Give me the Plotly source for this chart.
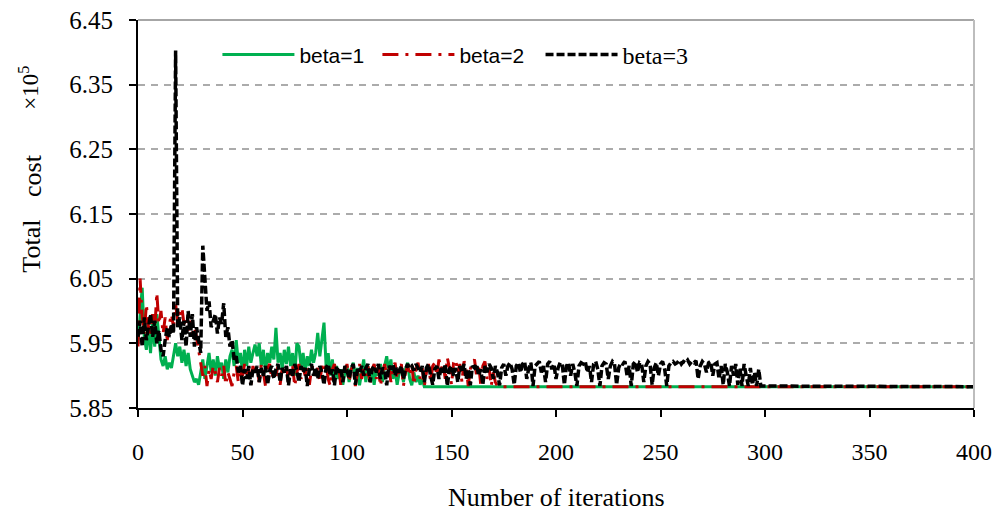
import plotly.graph_objects as go

# ---- data (total cost, x10^5) ----
beta1_cost = [
    5.950, 5.990, 6.036, 5.960, 5.940, 5.975, 5.935, 5.985, 5.945, 5.995,
    5.960, 5.925, 5.915, 5.930, 5.910, 5.920, 5.912, 5.935, 5.950, 5.930,
    5.945, 5.920, 5.940, 5.915, 5.935, 5.910, 5.900, 5.890, 5.895, 5.886,
    5.905, 5.925, 5.895, 5.915, 5.935, 5.905, 5.925, 5.900, 5.930, 5.910,
    5.920, 5.895, 5.925, 5.905, 5.930, 5.940, 5.915, 5.955, 5.920, 5.935,
    5.905, 5.940, 5.915, 5.945, 5.920, 5.935, 5.948, 5.930, 5.950, 5.915,
    5.940, 5.905, 5.935, 5.920, 5.945, 5.925, 5.974, 5.920, 5.935, 5.910,
    5.940, 5.918, 5.945, 5.915, 5.935, 5.900, 5.950, 5.945, 5.915, 5.935,
    5.905, 5.930, 5.915, 5.940, 5.920, 5.935, 5.966, 5.930, 5.960, 5.982,
    5.915, 5.935, 5.900, 5.925, 5.890, 5.915, 5.895, 5.910, 5.886, 5.905,
    5.915, 5.890, 5.910, 5.920, 5.895, 5.912, 5.885, 5.905, 5.925, 5.890,
    5.915, 5.895, 5.908, 5.886, 5.912, 5.900, 5.918, 5.890, 5.915, 5.930,
    5.905, 5.925, 5.895, 5.910, 5.886, 5.905, 5.915, 5.890, 5.910, 5.920,
    5.895, 5.885, 5.905, 5.890, 5.900, 5.886, 5.895, 5.883,
]
beta1_iter = list(range(len(beta1_cost))) + [400]
beta1_cost = beta1_cost + [5.883]

beta2_cost = [
    5.945, 6.050, 5.990, 5.965, 6.010, 5.975, 5.960, 5.995, 5.970, 6.028,
    5.980, 6.000, 5.965, 5.990, 5.955, 5.980, 5.995, 5.975, 6.010, 5.985,
    5.995, 6.005, 5.980, 5.990, 5.970, 5.985, 5.965, 5.975, 5.960, 5.940,
    5.920, 5.900, 5.915, 5.884, 5.910, 5.895, 5.915, 5.905, 5.890, 5.912,
    5.900, 5.915, 5.886, 5.905, 5.895, 5.884, 5.905, 5.915, 5.890, 5.910,
    5.900, 5.918, 5.895, 5.910, 5.886, 5.915, 5.900, 5.912, 5.890, 5.918,
    5.905, 5.884, 5.912, 5.918, 5.895, 5.910, 5.900, 5.915, 5.886, 5.912,
    5.905, 5.918, 5.890, 5.910, 5.915, 5.884, 5.905, 5.918, 5.895, 5.912,
    5.900, 5.915, 5.886, 5.910, 5.918, 5.900, 5.912, 5.890, 5.915, 5.905,
    5.918, 5.895, 5.884, 5.910, 5.918, 5.900, 5.915, 5.886, 5.912, 5.905,
    5.918, 5.890, 5.910, 5.915, 5.884, 5.905, 5.918, 5.895, 5.912, 5.900,
    5.915, 5.886, 5.910, 5.918, 5.895, 5.912, 5.884, 5.905, 5.918, 5.900,
    5.915, 5.890, 5.912, 5.920, 5.895, 5.910, 5.918, 5.884, 5.905, 5.915,
    5.900, 5.918, 5.886, 5.910, 5.920, 5.895, 5.912, 5.884, 5.905, 5.918,
    5.890, 5.915, 5.920, 5.900, 5.925, 5.910, 5.918, 5.895, 5.928, 5.912,
    5.886, 5.920, 5.925, 5.905, 5.918, 5.890, 5.922, 5.915, 5.884, 5.910,
    5.920, 5.925, 5.900, 5.918, 5.886, 5.915, 5.922, 5.895, 5.912, 5.884,
    5.905, 5.890, 5.884, 5.883,
]
beta2_iter = list(range(len(beta2_cost))) + [400]
beta2_cost = beta2_cost + [5.883]

beta3_cost = [
    5.960, 5.985, 5.945, 5.990, 5.955, 5.975, 5.995, 5.960, 5.985, 5.950,
    5.970, 5.940, 5.930, 5.955, 5.975, 5.960, 5.980, 5.965, 6.403, 5.975,
    5.990, 5.955, 5.985, 5.945, 6.000, 5.960, 5.995, 5.945, 5.975, 5.955,
    5.935, 6.101, 6.040, 6.000, 6.015, 5.975, 5.985, 5.995, 5.965, 5.990,
    5.980, 6.012, 5.960, 5.975, 5.945, 5.955, 5.925, 5.930, 5.905, 5.915,
    5.885, 5.910, 5.895, 5.915, 5.885, 5.910, 5.905, 5.915, 5.890, 5.912,
    5.900, 5.915, 5.886, 5.908, 5.915, 5.895, 5.910, 5.918, 5.890, 5.912,
    5.905, 5.915, 5.885, 5.910, 5.900, 5.918, 5.908, 5.890, 5.915, 5.905,
    5.912, 5.884, 5.910, 5.918, 5.900, 5.912, 5.895, 5.915, 5.905, 5.886,
    5.912, 5.918, 5.900, 5.910, 5.885, 5.915, 5.905, 5.912, 5.890, 5.915,
    5.908, 5.895, 5.912, 5.918, 5.886, 5.910, 5.905, 5.915, 5.900, 5.912,
    5.918, 5.890, 5.910, 5.915, 5.905, 5.918, 5.895, 5.912, 5.908, 5.885,
    5.915, 5.910, 5.918, 5.900, 5.912, 5.905, 5.915, 5.895, 5.910, 5.918,
    5.912, 5.915, 5.908, 5.918, 5.912, 5.905, 5.915, 5.890, 5.912, 5.918,
    5.900, 5.886, 5.910, 5.915, 5.895, 5.912, 5.905, 5.918, 5.884, 5.910,
    5.915, 5.900, 5.912, 5.890, 5.915, 5.905, 5.918, 5.895, 5.910, 5.885,
    5.915, 5.912, 5.918, 5.900, 5.910, 5.886, 5.915, 5.905, 5.918, 5.912,
    5.895, 5.915, 5.905, 5.885, 5.912, 5.918, 5.900, 5.915, 5.920, 5.910,
    5.886, 5.915, 5.920, 5.905, 5.918, 5.922, 5.895, 5.912, 5.920, 5.884,
    5.915, 5.918, 5.922, 5.905, 5.915, 5.890, 5.918, 5.922, 5.910, 5.918,
    5.895, 5.912, 5.920, 5.918, 5.886, 5.915, 5.920, 5.900, 5.918, 5.905,
    5.884, 5.915, 5.920, 5.918, 5.922, 5.905, 5.915, 5.890, 5.918, 5.922,
    5.910, 5.884, 5.915, 5.920, 5.918, 5.895, 5.915, 5.922, 5.918, 5.886,
    5.912, 5.920, 5.918, 5.922, 5.900, 5.915, 5.884, 5.918, 5.922, 5.905,
    5.920, 5.918, 5.890, 5.915, 5.922, 5.918, 5.886, 5.912, 5.920, 5.900,
    5.918, 5.922, 5.910, 5.884, 5.915, 5.920, 5.922, 5.918, 5.920, 5.924,
    5.918, 5.922, 5.920, 5.924, 5.918, 5.922, 5.920, 5.923, 5.895, 5.915,
    5.922, 5.918, 5.905, 5.920, 5.922, 5.900, 5.918, 5.920, 5.895, 5.915,
    5.886, 5.918, 5.905, 5.884, 5.915, 5.900, 5.918, 5.886, 5.912, 5.884,
    5.918, 5.900, 5.884, 5.912, 5.886, 5.905, 5.884, 5.910, 5.884,
]
beta3_iter = list(range(len(beta3_cost))) + [400]
beta3_cost = beta3_cost + [5.883]

y_ticks = [5.85, 5.95, 6.05, 6.15, 6.25, 6.35, 6.45]
y_ticklabels = ["5.85", "5.95", "6.05", "6.15", "6.25", "6.35", "6.45"]
x_ticks = [0, 50, 100, 150, 200, 250, 300, 350, 400]

SERIF = "Liberation Serif, Times New Roman, serif"
SANS = "Liberation Sans, Arial, sans-serif"

fig = go.Figure()
fig.add_trace(go.Scatter(
    x=beta1_iter, y=beta1_cost, mode="lines", name="beta=1", legend="legend",
    line=dict(color="#00b050", width=3),
))
fig.add_trace(go.Scatter(
    x=beta2_iter, y=beta2_cost, mode="lines", name="beta=2", legend="legend",
    line=dict(color="#c00000", width=3, dash="16px,7px,3px,7px"),
))
fig.add_trace(go.Scatter(
    x=beta3_iter, y=beta3_cost, mode="lines", name="beta=3", legend="legend2",
    line=dict(color="#000000", width=3.5, dash="8px,3px"),
))

# plot area: x 138.5..974.5 px, y 20..408.5 px
fig.update_layout(
    width=998, height=511,
    margin=dict(l=138, r=24, t=20, b=103, autoexpand=False),
    paper_bgcolor="white", plot_bgcolor="white",
    font=dict(family=SERIF, size=24, color="black"),
    showlegend=True,
    legend=dict(
        orientation="h", x=0.095, y=0.91, xanchor="left", yanchor="middle",
        font=dict(family=SANS, size=21, color="black"),
        itemwidth=72, entrywidth=73, bgcolor="rgba(0,0,0,0)", traceorder="normal",
    ),
    legend2=dict(
        orientation="h", x=0.4815, y=0.91, xanchor="left", yanchor="middle",
        font=dict(family=SERIF, size=24, color="black"),
        itemwidth=72, bgcolor="rgba(0,0,0,0)",
    ),
    xaxis=dict(
        range=[0, 400], tickvals=x_ticks, ticks="outside", ticklen=7, tickwidth=2,
        tickcolor="black", showline=True, linecolor="black", linewidth=2,
        showgrid=False, zeroline=False, ticklabelstandoff=14, automargin=False,
        tickfont=dict(family=SERIF, size=24),
    ),
    yaxis=dict(
        range=[5.85, 6.45], tickvals=y_ticks, ticktext=y_ticklabels,
        ticks="outside", ticklen=7, tickwidth=2, tickcolor="black",
        showline=True, linecolor="black", linewidth=2,
        showgrid=True, gridcolor="#ababab", gridwidth=2, griddash="7px,6px",
        zeroline=False, ticklabelstandoff=11, automargin=False,
        tickfont=dict(family=SERIF, size=25),
    ),
    shapes=[
        dict(type="line", xref="paper", yref="paper", x0=0, x1=1, y0=1, y1=1,
             line=dict(color="#a6a6a6", width=2)),
        dict(type="line", xref="paper", yref="paper", x0=1, x1=1, y0=0, y1=1,
             line=dict(color="#bdbdbd", width=2)),
    ],
    annotations=[
        dict(text="Number of iterations", xref="paper", yref="paper", x=0.5, y=-0.2304,
             showarrow=False, font=dict(family=SERIF, size=26),
             xanchor="center", yanchor="middle"),
        dict(text="Total", xref="paper", yref="paper", x=-0.127, y=0.418,
             textangle=-90, showarrow=False, font=dict(family=SERIF, size=26),
             xanchor="center", yanchor="middle"),
        dict(text="cost", xref="paper", yref="paper", x=-0.127, y=0.60,
             textangle=-90, showarrow=False, font=dict(family=SERIF, size=26),
             xanchor="center", yanchor="middle"),
        dict(text="×10<sup>5</sup>", xref="paper", yref="paper", x=-0.13, y=0.826,
             textangle=-90, showarrow=False, font=dict(family=SERIF, size=23),
             xanchor="center", yanchor="middle"),
    ],
)

fig.write_html("out.html", config={"displayModeBar": False},
               post_script="document.body.style.margin='0';")
